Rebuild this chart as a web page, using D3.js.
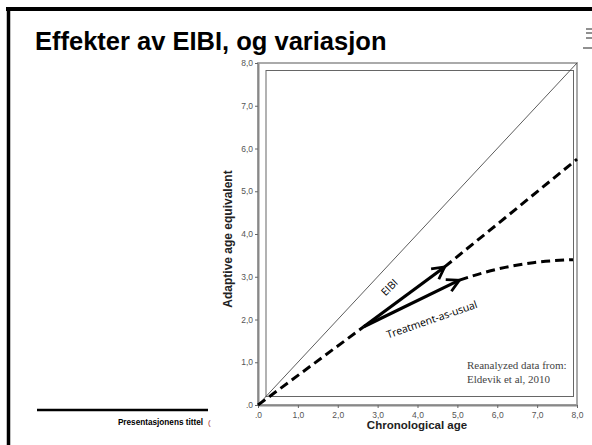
<!DOCTYPE html>
<html>
<head>
<meta charset="utf-8">
<script src="https://cdn.jsdelivr.net/npm/d3@7"></script>
<style>
  body { margin: 0; background: #fff; }
  svg { display: block; }
</style>
</head>
<body>
<svg width="592" height="445"></svg>
<script>
var width = 592;
var height = 445;

// tick values and their labels (Norwegian decimal comma)
var tickValues = [0, 1, 2, 3, 4, 5, 6, 7, 8];
var tickLabels = [".0", "1,0", "2,0", "3,0", "4,0", "5,0", "6,0", "7,0", "8,0"];

// lines, [chronological age, adaptive age]
var diagonal = [[0, 0], [8, 8]];
var sharedPath = [[0, 0], [2.65, 1.83]];
var eibiArrow = [[2.65, 1.83], [4.68, 3.23]];
var eibiDash = [[4.68, 3.23], [6.2, 4.38], [8, 5.75]];
var tauArrow = [[2.65, 1.83], [5.05, 2.92]];
var tauDash = [[5.05, 2.92], [5.6, 3.08], [6.2, 3.22], [6.9, 3.33], [7.9, 3.4]];

var svg = d3.select("svg");

var xScale = d3.scaleLinear().domain([0, 8]).range([258, 577]);
var yScale = d3.scaleLinear().domain([0, 8]).range([405, 63]);

var line = d3.line()
    .x(d => xScale(d[0]))
    .y(d => yScale(d[1]));
var curve = d3.line()
    .x(d => xScale(d[0]))
    .y(d => yScale(d[1]))
    .curve(d3.curveMonotoneX);

// slide frame
svg.append("line")
    .attr("x1", 6).attr("x2", width)
    .attr("y1", 9).attr("y2", 9)
    .attr("stroke", "#000").attr("stroke-width", 4);
svg.append("line")
    .attr("x1", 8.5).attr("x2", 8.5)
    .attr("y1", 7).attr("y2", height)
    .attr("stroke", "#000").attr("stroke-width", 3.5);

// clipped glyph at top right
[29, 33, 38].forEach(function(y) {
    svg.append("line")
        .attr("x1", 586).attr("x2", width)
        .attr("y1", y).attr("y2", y)
        .attr("stroke", "#222").attr("stroke-width", 1);
});
svg.append("line")
    .attr("x1", 583).attr("x2", width)
    .attr("y1", 48).attr("y2", 48)
    .attr("stroke", "#222").attr("stroke-width", 1);

svg.append("text")
    .attr("x", 35)
    .attr("y", 50)
    .style("font-family", "Liberation Sans, Arial, sans-serif")
    .style("font-weight", "bold")
    .style("font-size", "25.5px")
    .text("Effekter av EIBI, og variasjon");

// footer
svg.append("line")
    .attr("x1", 37).attr("x2", 208)
    .attr("y1", 410).attr("y2", 410)
    .attr("stroke", "#000").attr("stroke-width", 2.5);
svg.append("text")
    .attr("x", 203)
    .attr("y", 425)
    .style("text-anchor", "end")
    .style("font-family", "Liberation Sans, Arial, sans-serif")
    .style("font-weight", "bold")
    .style("font-size", "8.2px")
    .text("Presentasjonens tittel");
svg.append("text")
    .attr("x", 208)
    .attr("y", 425)
    .style("font-family", "Liberation Sans, Arial, sans-serif")
    .style("font-size", "8px")
    .attr("fill", "#a33")
    .text("(");

// chart frame: outer box (axes) and inner box
svg.append("rect")
    .attr("x", xScale(0)).attr("y", yScale(8))
    .attr("width", xScale(8) - xScale(0))
    .attr("height", yScale(0) - yScale(8))
    .attr("fill", "none")
    .attr("stroke", "#aaa").attr("stroke-width", 2);
svg.append("rect")
    .attr("x", 266).attr("y", 70.5)
    .attr("width", 573.5 - 266)
    .attr("height", 396.5 - 70.5)
    .attr("fill", "none")
    .attr("stroke", "#666").attr("stroke-width", 1);

var xAxis = d3.axisBottom(xScale)
    .tickValues(tickValues)
    .tickFormat((d, i) => tickLabels[i])
    .tickSize(3)
    .tickSizeOuter(0);
var yAxis = d3.axisLeft(yScale)
    .tickValues(tickValues)
    .tickFormat((d, i) => tickLabels[i])
    .tickSize(3)
    .tickSizeOuter(0);

var gx = svg.append("g")
    .attr("transform", "translate(0," + yScale(0) + ")")
    .call(xAxis);
var gy = svg.append("g")
    .attr("transform", "translate(" + xScale(0) + ",0)")
    .call(yAxis);

[gx, gy].forEach(function(g) {
    g.select(".domain").attr("stroke", "#888").attr("stroke-width", 2);
    g.selectAll(".tick line").attr("stroke", "#666");
    g.selectAll(".tick text")
        .attr("fill", "#555")
        .style("font-family", "Liberation Sans, Arial, sans-serif")
        .style("font-size", "8.5px");
});
gx.selectAll(".tick text").attr("dy", "0.85em");
gy.selectAll(".tick text").attr("dx", "1px").attr("dy", "0.3em");

svg.append("text")
    .attr("x", 417)
    .attr("y", 429)
    .style("text-anchor", "middle")
    .style("font-family", "Liberation Sans, Arial, sans-serif")
    .style("font-weight", "bold")
    .style("font-size", "11.5px")
    .attr("fill", "#222")
    .text("Chronological age");

svg.append("text")
    .attr("transform", "rotate(-90)")
    .attr("x", -239)
    .attr("y", 232)
    .style("text-anchor", "middle")
    .style("font-family", "Liberation Sans, Arial, sans-serif")
    .style("font-weight", "bold")
    .style("font-size", "12px")
    .attr("fill", "#222")
    .text("Adaptive age equivalent");

// arrow head marker
svg.append("defs").append("marker")
    .attr("id", "head")
    .attr("markerUnits", "userSpaceOnUse")
    .attr("viewBox", "0 0 16 16")
    .attr("refX", 14)
    .attr("refY", 8)
    .attr("markerWidth", 16)
    .attr("markerHeight", 16)
    .attr("orient", "auto")
    .append("path")
        .attr("d", "M2,1.5 L14,8 L2,14.5")
        .attr("fill", "none")
        .attr("stroke", "#000")
        .attr("stroke-width", 2.8)
        .attr("stroke-linejoin", "miter");

// identity line
svg.append("path")
    .attr("d", line(diagonal))
    .attr("fill", "none")
    .attr("stroke", "#333")
    .attr("stroke-width", 0.8);

// dashed trajectories
[sharedPath, eibiDash].forEach(function(pts) {
    svg.append("path")
        .attr("d", line(pts))
        .attr("fill", "none")
        .attr("stroke", "#000")
        .attr("stroke-width", 3)
        .attr("stroke-dasharray", "9,5");
});
svg.append("path")
    .attr("d", curve(tauDash))
    .attr("fill", "none")
    .attr("stroke", "#000")
    .attr("stroke-width", 3)
    .attr("stroke-dasharray", "9,5");

// solid arrows
[eibiArrow, tauArrow].forEach(function(pts) {
    svg.append("path")
        .attr("d", line(pts))
        .attr("fill", "none")
        .attr("stroke", "#000")
        .attr("stroke-width", 3.2)
        .attr("marker-end", "url(#head)");
});

svg.append("text")
    .attr("transform", "translate(392,290) rotate(-45)")
    .style("text-anchor", "middle")
    .style("font-family", "Open Sans, Liberation Sans, sans-serif")
    .style("font-size", "10.5px")
    .text("EIBI");

svg.append("text")
    .attr("transform", "translate(433,323) rotate(-19)")
    .style("text-anchor", "middle")
    .style("font-family", "Open Sans, Liberation Sans, sans-serif")
    .style("font-size", "10.5px")
    .text("Treatment-as-usual");

// source note
svg.append("text")
    .attr("x", 467)
    .attr("y", 369)
    .style("font-family", "Liberation Serif, Times New Roman, serif")
    .style("font-size", "11px")
    .attr("fill", "#444")
    .text("Reanalyzed data from:");
svg.append("text")
    .attr("x", 467)
    .attr("y", 383)
    .style("font-family", "Liberation Serif, Times New Roman, serif")
    .style("font-size", "11px")
    .attr("fill", "#444")
    .text("Eldevik et al, 2010");
</script>
</body>
</html>
